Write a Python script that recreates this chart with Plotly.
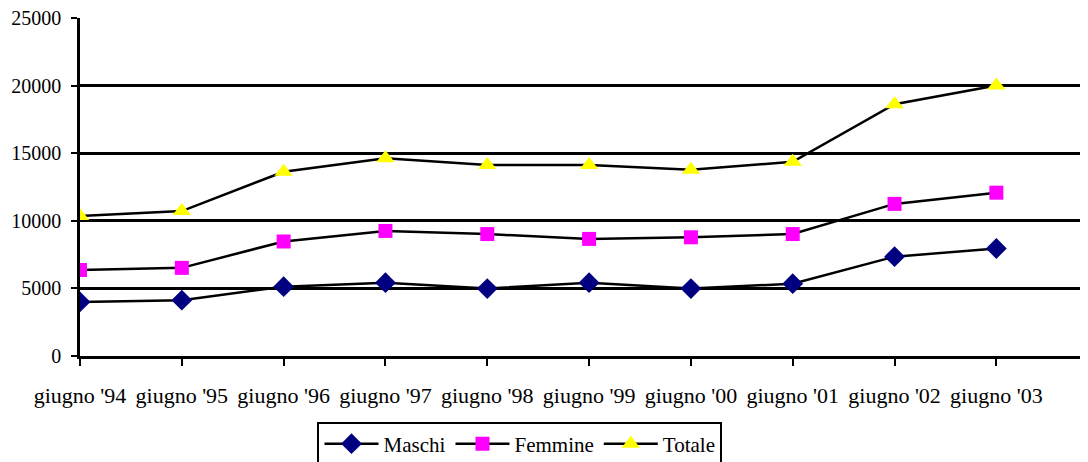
import plotly.graph_objects as go

categories = ["giugno '94", "giugno '95", "giugno '96", "giugno '97", "giugno '98",
              "giugno '99", "giugno '00", "giugno '01", "giugno '02", "giugno '03"]
maschi = [4000, 4130, 5130, 5420, 4990, 5420, 4990, 5350, 7350, 7950]
femmine = [6360, 6520, 8470, 9250, 9020, 8660, 8780, 9020, 11250, 12080]
totale = [10350, 10720, 13630, 14630, 14120, 14130, 13770, 14370, 18620, 20010]
y_ticks = [0, 5000, 10000, 15000, 20000, 25000]

FONT = "Liberation Serif"

fig = go.Figure()
series = [
    ("Maschi", maschi, "diamond", "#000080", 16),
    ("Femmine", femmine, "square", "#FF00FF", 14),
    ("Totale", totale, "triangle-up", "#FFFF00", 16),
]
for name, vals, sym, col, sz in series:
    fig.add_trace(go.Scatter(
        x=categories, y=vals, name=name, mode="lines+markers",
        line=dict(color="black", width=2.5),
        marker=dict(symbol=sym, color=col, size=sz, line=dict(width=0)),
    ))

fig.update_layout(
    width=1080, height=454,
    margin=dict(l=72, r=0, t=10, b=106, autoexpand=False),
    paper_bgcolor="white", plot_bgcolor="white",
    font=dict(family=FONT, size=21, color="black"),
    showlegend=True,
    legend=dict(
        orientation="h", x=0.4365, xanchor="center", y=-0.194, yanchor="top",
        bordercolor="black", borderwidth=2, bgcolor="white",
        font=dict(family=FONT, size=21, color="black"),
        itemwidth=54, tracegroupgap=0,
    ),
)
fig.update_xaxes(
    type="category", range=[0, 9.9], automargin=False,
    showline=True, linecolor="black", linewidth=2.5,
    ticks="outside", ticklen=7, tickwidth=2, tickcolor="black",
    showgrid=False, zeroline=False,
    ticklabelstandoff=11,
    tickfont=dict(family=FONT, size=22, color="black"),
)
fig.update_yaxes(
    range=[0, 25000], tickvals=y_ticks, tickformat="d", automargin=False,
    showline=True, linecolor="black", linewidth=2.5,
    ticks="outside", ticklen=6, tickwidth=2, tickcolor="black",
    showgrid=True, gridcolor="black", gridwidth=2.5,
    zeroline=False,
    ticklabelstandoff=6, ticklabeloverflow="allow",
    tickfont=dict(family=FONT, size=20, color="black"),
)

fig.write_html("out.html")
